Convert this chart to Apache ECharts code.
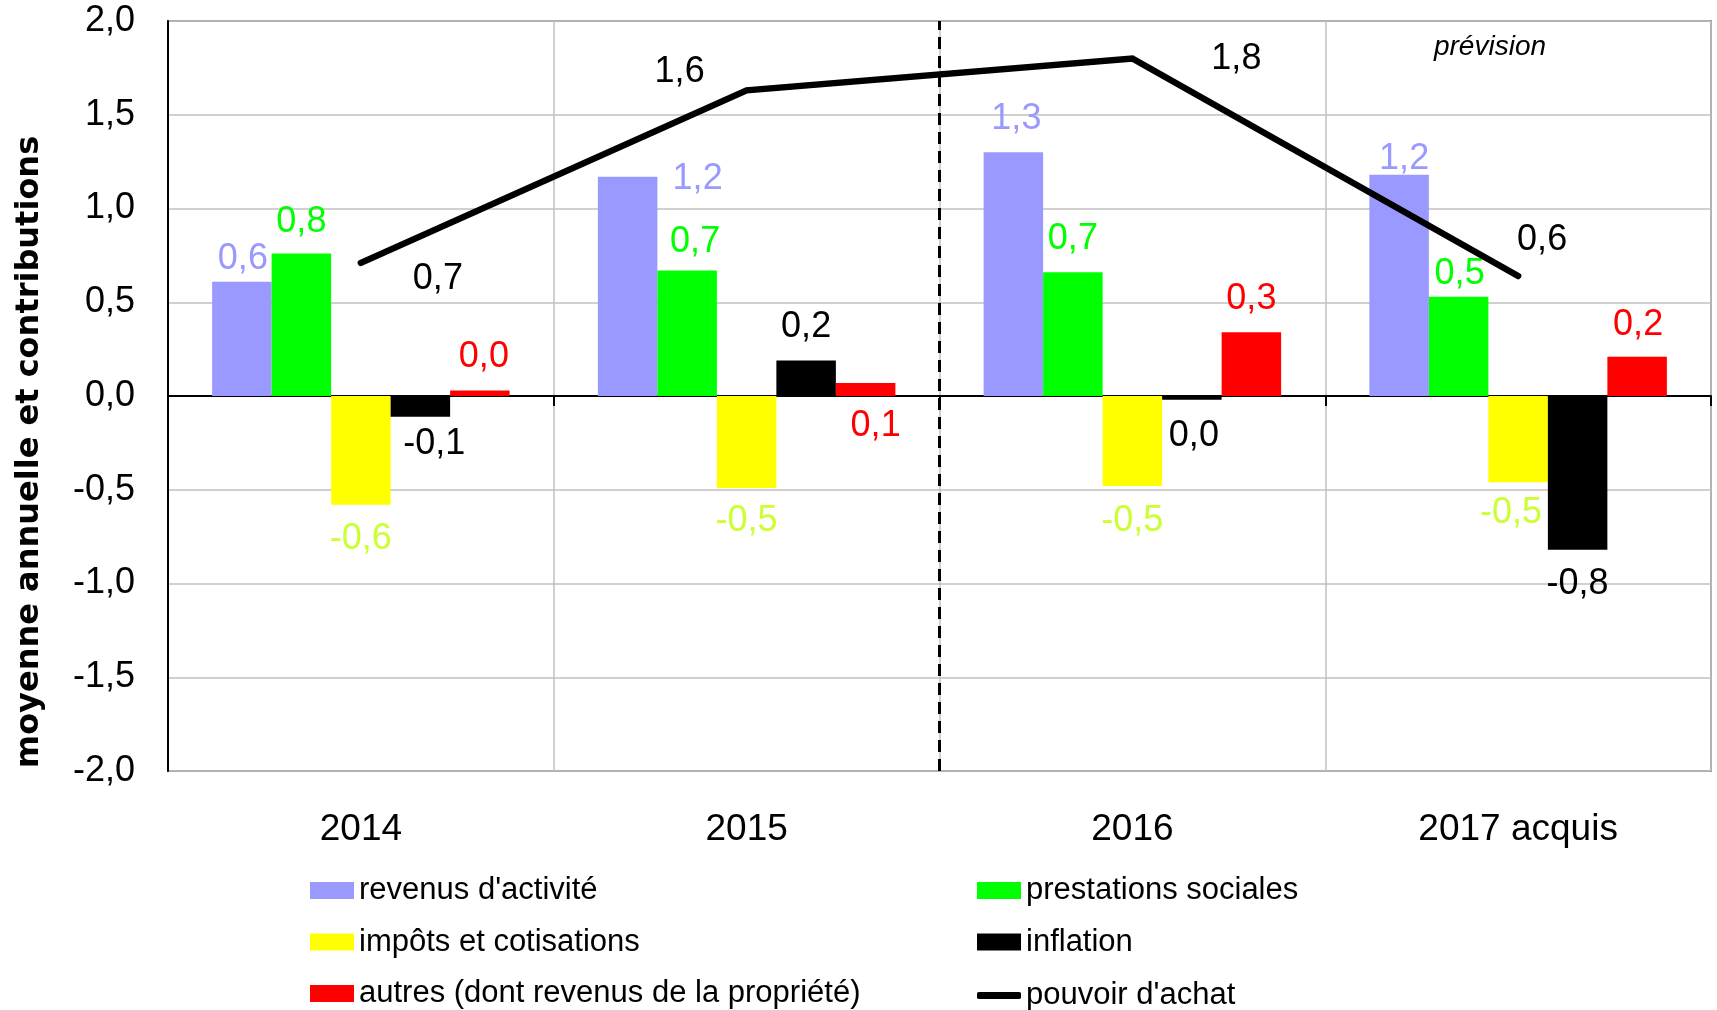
<!DOCTYPE html>
<html>
<head>
<meta charset="utf-8">
<script src="https://cdn.jsdelivr.net/npm/echarts@6/dist/echarts.min.js"></script>
<style>
  html, body { margin: 0; padding: 0; background: #fff; }
  #chart { width: 1717px; height: 1010px; }
</style>
</head>
<body>
<div id="chart"></div>
<script>
// données
const categories = ['2014', '2015', '2016', '2017 acquis']
const revenus = [0.61, 1.17, 1.30, 1.18]
const prestations = [0.76, 0.67, 0.66, 0.53]
const impots = [-0.58, -0.49, -0.48, -0.46]
const inflation = [-0.11, 0.19, -0.02, -0.82]
const autres = [0.03, 0.07, 0.34, 0.21]
const pouvoir = [0.71, 1.63, 1.80, 0.64]

const FONT = '"Liberation Sans", Arial, sans-serif'

// placement des étiquettes (position, décalage x, décalage y)
const LABEL_PLACES = {
  revenus: [['top', 1, 0], ['top', 70, 25], ['top', 3, -10], ['top', 5, 7]],
  prestations: [['top', 0, -8], ['top', 8, -5], ['top', 0, -10], ['top', 1, 0]],
  impots: [['bottom', 0, 11], ['bottom', 0, 10], ['bottom', 0, 12], ['bottom', -7, 8]],
  inflation: [['bottom', 14, 4], ['top', 0, -10], ['bottom', 2, 13], ['bottom', 0, 11]],
  autres: [['top', 4, -10], ['bottom', 10, 7], ['top', 0, -10], ['top', 1, -9]],
  pouvoir: [['inside', 77, 16], ['inside', -67, -18], ['inside', 104, 1], ['inside', 24, -36]],
}

const fmt = v => {
  const r = Math.round(v * 10) / 10
  return (r === 0 ? 0 : r).toFixed(1).replace('.', ',')
}

function withLabels(values, places) {
  return values.map((v, i) => ({
    value: v,
    label: { position: places[i][0], offset: [places[i][1], places[i][2]] },
  }))
}

function barSeries(name, values, color, labelColor, places) {
  return {
    name,
    type: 'bar',
    data: withLabels(values, places),
    barWidth: 59.5,
    barGap: '0%',
    itemStyle: { color },
    label: {
      show: true,
      color: labelColor,
      fontSize: 36,
      fontFamily: FONT,
      distance: 5,
      formatter: p => fmt(p.value),
    },
    silent: true,
    z: 2,
  }
}

const chart = echarts.init(document.getElementById('chart'))

const legendBase = {
  orient: 'vertical',
  padding: 0,
  height: 200,
  itemWidth: 44,
  itemHeight: 17,
  itemGap: 20.5,
  icon: 'rect',
  selectedMode: false,
  textStyle: { fontSize: 31, lineHeight: 30, color: '#000', fontFamily: FONT },
}

chart.setOption({
  animation: false,
  backgroundColor: '#fff',
  grid: { left: 168, right: 6, top: 21, bottom: 239, show: true, borderColor: '#888', borderWidth: 2 },
  legend: [
    { ...legendBase, left: 310, top: 875, data: ["revenus d'activité", 'impôts et cotisations', 'autres (dont revenus de la propriété)'] },
    { ...legendBase, left: 977, top: 875, data: ['prestations sociales', 'inflation'] },
    { ...legendBase, left: 977, top: 980, height: 40, itemHeight: 7, icon: 'roundRect', data: ["pouvoir d'achat"] },
  ],
  xAxis: [
    {
      type: 'category',
      data: categories,
      position: 'bottom',
      axisLine: { show: false, onZero: false },
      axisTick: { show: false },
      axisLabel: { fontSize: 37, color: '#000', fontFamily: FONT, margin: 40 },
      splitLine: { show: true, lineStyle: { color: '#c0c0c0', width: 1.5 } },
    },
    {
      type: 'category',
      data: categories,
      position: 'bottom',
      axisLine: { show: true, onZero: true, lineStyle: { color: '#000', width: 2 } },
      axisTick: { show: true, length: 10, lineStyle: { color: '#000', width: 2 } },
      axisLabel: { show: false },
      splitLine: { show: false },
    },
    { type: 'value', min: 0, max: 4, show: false },
  ],
  yAxis: {
    type: 'value',
    min: -2,
    max: 2,
    interval: 0.5,
    axisLine: { show: true, onZero: false, lineStyle: { color: '#000', width: 2 } },
    axisTick: { show: false },
    axisLabel: { fontSize: 36, color: '#000', fontFamily: FONT, margin: 33, formatter: v => v.toFixed(1).replace('.', ',') },
    splitLine: { show: true, lineStyle: { color: '#c0c0c0', width: 1.5 } },
  },
  graphic: [
    {
      type: 'text', x: 30, y: 452, rotation: Math.PI / 2,
      style: { text: 'moyenne annuelle et contributions', font: 'bold 32px "DejaVu Sans"', fill: '#000', align: 'center', verticalAlign: 'middle' },
    },
    {
      type: 'text', x: 1490, y: 47,
      style: { text: 'prévision', font: 'italic 28px "Liberation Sans"', fill: '#000', align: 'center', verticalAlign: 'middle' },
    },
  ],
  series: [
    barSeries("revenus d'activité", revenus, '#9999ff', '#9999ff', LABEL_PLACES.revenus),
    barSeries('prestations sociales', prestations, '#00ff00', '#00ff00', LABEL_PLACES.prestations),
    barSeries('impôts et cotisations', impots, '#ffff00', '#ccff33', LABEL_PLACES.impots),
    barSeries('inflation', inflation, '#000000', '#000000', LABEL_PLACES.inflation),
    barSeries('autres (dont revenus de la propriété)', autres, '#ff0000', '#ff0000', LABEL_PLACES.autres),
    {
      name: "pouvoir d'achat",
      type: 'line',
      data: withLabels(pouvoir, LABEL_PLACES.pouvoir),
      symbol: 'circle',
      symbolSize: 2,
      itemStyle: { color: '#000' },
      lineStyle: { color: '#000', width: 6.5, cap: 'round', join: 'miter' },
      label: { show: true, color: '#000', fontSize: 36, fontFamily: FONT, formatter: p => fmt(p.value) },
      silent: true,
      z: 5,
    },
    {
      name: 'separation',
      type: 'line',
      xAxisIndex: 2,
      data: [],
      symbol: 'none',
      markLine: {
        silent: true,
        symbol: 'none',
        label: { show: false },
        lineStyle: { color: '#000', type: [12, 7], width: 3 },
        data: [{ xAxis: 2 }],
      },
      z: 4,
    },
  ],
})
</script>
</body>
</html>
